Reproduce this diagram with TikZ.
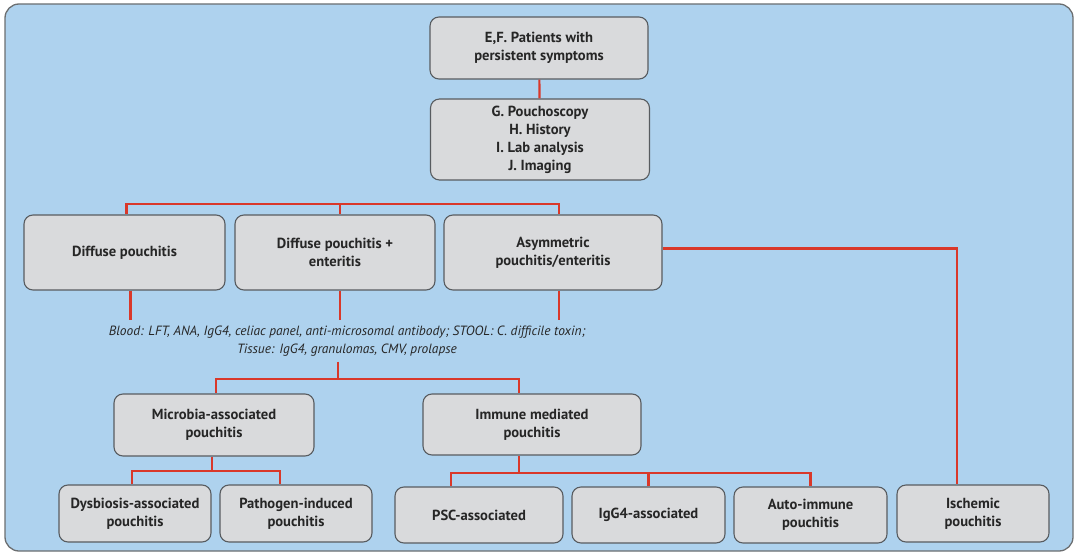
\documentclass[tikz,border=0pt]{standalone}
\usepackage{fontspec}
\setmainfont{PT Sans}
\usetikzlibrary{calc}

\definecolor{panelblue}{HTML}{AED2EE}
\definecolor{panelline}{HTML}{6B6E70}
\definecolor{boxgray}{HTML}{D9DADC}
\definecolor{boxline}{HTML}{585C60}
\definecolor{linkred}{HTML}{D9382A}
\definecolor{ink}{HTML}{262626}

\tikzstyle{box}=[draw=boxline, fill=boxgray, rounded corners=9pt, line width=1.1pt, align=center, text=ink, inner sep=0pt, font=\bfseries\fontsize{14.6}{18}\selectfont]
\tikzstyle{link}=[draw=linkred, line width=2.2pt]
\tikzstyle{tests}=[align=center, text=ink, inner sep=5pt, font=\itshape\fontsize{13.4}{18.5}\selectfont]

\begin{document}
\begin{tikzpicture}[x=1pt,y=-1pt]
\useasboundingbox (0,0) rectangle (1075,553);
\draw [panelline, fill=panelblue, line width=1.3pt, rounded corners=14pt] (5,4) rectangle (1073,551);

% top of the tree
\node [box, minimum width=218pt, minimum height=62pt] (start) at (539,48) {E,F. Patients with\\persistent symptoms};
\node [box, minimum width=219pt, minimum height=81pt] (exam) at (540,139.5) {G. Pouchoscopy\\H. History\\I. Lab analysis\\J. Imaging};
\draw [link] (start) -- (exam);

% pattern of inflammation
\node [box, minimum width=201pt, minimum height=75pt] (diffuse) at (124.5,252.5) {Diffuse pouchitis};
\node [box, minimum width=200pt, minimum height=75pt] (enteritis) at (335,252.5) {Diffuse pouchitis +\\enteritis};
\node [box, minimum width=218pt, minimum height=75pt] (asym) at (553,252.5) {Asymmetric\\pouchitis/enteritis};

\coordinate (j1) at (340,204);
\draw [link] ($(diffuse.north)+(2,0)$) |- (j1) -| ($(asym.north)+(6,0)$);
\draw [link] (j1) -- (j1 |- enteritis.north);

% work-up
\node [tests] (tests) at (347,341) {Blood: LFT, ANA, IgG4, celiac panel, anti-microsomal antibody; STOOL: C. difficile toxin;\\Tissue: IgG4, granulomas, CMV, prolapse};
\coordinate (s1) at ($(diffuse.south)+(6,0)$);
\coordinate (s2) at ($(enteritis.south)+(5,0)$);
\coordinate (s3) at ($(asym.south)+(6,0)$);
\draw [link] (s1) -- (s1 |- tests.north);
\draw [link] (s2) -- (s2 |- tests.north);
\draw [link] (s3) -- (s3 |- tests.north);

% causes
\node [box, minimum width=200pt, minimum height=62pt] (microbe) at (214,425) {Microbia-associated\\pouchitis};
\node [box, minimum width=218pt, minimum height=61pt] (immune) at (532,424.5) {Immune mediated\\pouchitis};

\coordinate (j2) at (338,379);
\draw [link] (tests.south -| j2) -- (j2);
\draw [link] ($(microbe.north)+(2,0)$) |- (j2) -| ($(immune.north)+(-13,0)$);

\node [box, minimum width=152pt, minimum height=57pt] (dysbiosis) at (135,513.5) {Dysbiosis-associated\\pouchitis};
\node [box, minimum width=152pt, minimum height=57pt] (pathogen) at (296,513.5) {Pathogen-induced\\pouchitis};

\coordinate (j3) at (212,471);
\draw [link] (microbe.south -| j3) -- (j3);
\draw [link] ($(dysbiosis.north)+(-3,0)$) |- (j3) -| ($(pathogen.north)+(-16,0)$);

\node [box, minimum width=168pt, minimum height=56pt] (psc) at (479,515) {PSC-associated};
\node [box, minimum width=153pt, minimum height=56pt] (igg) at (648.5,515) {IgG4-associated};
\node [box, minimum width=153pt, minimum height=56pt] (autoimm) at (810.5,515) {Auto-immune\\pouchitis};

\coordinate (j4) at (519,473);
\draw [link] (immune.south -| j4) -- (j4);
\draw [link] ($(psc.north)+(-28,0)$) |- (j4) -| (autoimm.north);
\draw [link] (igg.north) -- (igg.north |- j4);

% ischemic branch
\node [box, minimum width=152pt, minimum height=57pt] (ischemic) at (973,513.5) {Ischemic\\pouchitis};
\draw [link] ($(asym.east)+(0,-4)$) -| ($(ischemic.north)+(-16,0)$);
\end{tikzpicture}
\end{document}
